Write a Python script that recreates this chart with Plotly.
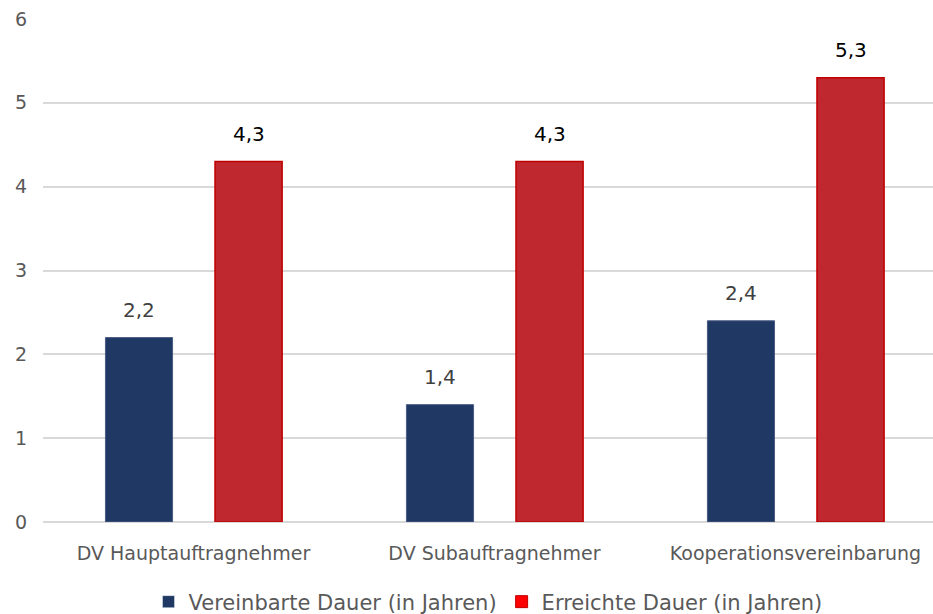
import plotly.graph_objects as go

categories = ["DV Hauptauftragnehmer", "DV Subauftragnehmer", "Kooperationsvereinbarung"]
vereinbart = [2.2, 1.4, 2.4]
erreicht = [4.3, 4.3, 5.3]
series_names = ["Vereinbarte Dauer (in Jahren)", "Erreichte Dauer (in Jahren)"]
y_ticks = [0, 1, 2, 3, 4, 5, 6]

FONT = "'DejaVu Sans', sans-serif"
BAR_W = 0.223
OFFSETS = [-0.2925, 0.0715]


def fmt(v):
    return f"{v:.1f}".replace(".", ",")


fig = go.Figure()
fig.add_trace(go.Bar(
    x=categories, y=vereinbart, name=series_names[0], showlegend=False,
    width=BAR_W, offset=OFFSETS[0],
    marker=dict(color="#203864", line=dict(color="#4a5c84", width=1)),
))
fig.add_trace(go.Bar(
    x=categories, y=erreicht, name=series_names[1], showlegend=False,
    width=BAR_W, offset=OFFSETS[1],
    marker=dict(color="#C0282F", line=dict(color="#C00000", width=1.5)),
))
# legend entries
fig.add_trace(go.Bar(x=[None], y=[None], name=series_names[0],
                     marker=dict(color="#203864")))
fig.add_trace(go.Bar(x=[None], y=[None], name=series_names[1],
                     marker=dict(color="#FF0000", line=dict(color="#C00000", width=1))))

# value labels above bars
for values, off, col in [(vereinbart, OFFSETS[0], "#404040"), (erreicht, OFFSETS[1], "#000000")]:
    for i, v in enumerate(values):
        fig.add_annotation(x=i + off + BAR_W / 2, y=v, text=fmt(v), showarrow=False,
                           yanchor="bottom", yshift=14,
                           font=dict(size=20, color=col, family=FONT))

fig.update_layout(
    width=933, height=614,
    margin=dict(l=43, r=0, t=19, b=92, autoexpand=False),
    paper_bgcolor="white", plot_bgcolor="white",
    barmode="overlay",
    font=dict(family=FONT, color="#595959"),
    legend=dict(orientation="h", x=0.5, xanchor="center", y=-0.159, yanchor="middle",
                font=dict(size=21, color="#595959", family=FONT),
                itemwidth=30, traceorder="normal"),
    xaxis=dict(range=[-0.5, 2.457], showgrid=False, showline=False, ticks="",
               ticklabelstandoff=18,
               tickfont=dict(size=19, color="#595959", family=FONT)),
    yaxis=dict(range=[0, 6], tickvals=y_ticks, showgrid=True, gridcolor="#D9D9D9",
               gridwidth=1.5, zeroline=True, zerolinecolor="#D9D9D9", zerolinewidth=1.5,
               showline=False, ticks="", ticklabelstandoff=15,
               tickfont=dict(size=19, color="#595959", family=FONT)),
)

fig.write_html("out.html")
